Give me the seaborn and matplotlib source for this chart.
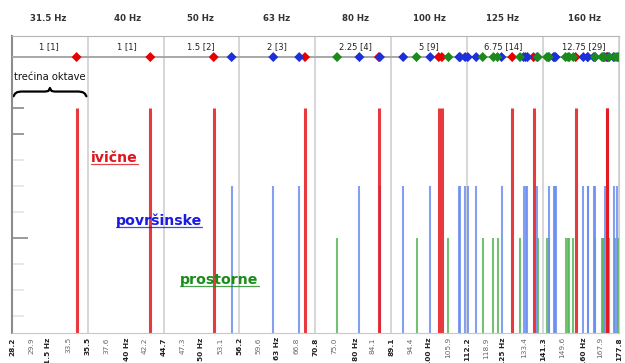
import numpy as np
import pandas as pd
import matplotlib
matplotlib.use("Agg")
import matplotlib.pyplot as plt
import seaborn as sns
from matplotlib.lines import Line2D

# tercni opsezi (Hz)
band_edges = [28.2, 35.5, 44.7, 56.2, 70.8, 89.1, 112.2, 141.3, 177.8]
band_centres = [31.5, 40, 50, 63, 80, 100, 125, 160]
band_names = ["31.5 Hz", "40 Hz", "50 Hz", "63 Hz", "80 Hz", "100 Hz", "125 Hz", "160 Hz"]
band_counts = ["1 [1]", "1 [1]", "1.5 [2]", "2 [3]", "2.25 [4]", "5 [9]", "6.75 [14]", "12.75 [29]"]

tick_pos = [28.2, 29.9, 31.5, 33.5, 35.5, 37.6, 40, 42.2, 44.7, 47.3, 50, 53.1,
            56.2, 59.6, 63, 66.8, 70.8, 75.0, 80, 84.1, 89.1, 94.4, 100, 105.9,
            112.2, 118.9, 125, 133.4, 141.3, 149.6, 160, 167.9, 177.8]
tick_labels = ["28.2", "29.9", "31.5 Hz", "33.5", "35.5", "37.6", "40 Hz", "42.2",
               "44.7", "47.3", "50 Hz", "53.1", "56.2", "59.6", "63 Hz", "66.8",
               "70.8", "75.0", "80 Hz", "84.1", "89.1", "94.4", "100 Hz", "105.9",
               "112.2", "118.9", "125 Hz", "133.4", "141.3", "149.6", "160 Hz",
               "167.9", "177.8"]

# rezonantne frekvencije (Hz)
axial = [34.3, 42.9, 52.0, 68.6, 85.8, 102.9, 103.9, 128.6, 137.2, 155.9, 171.5, 171.5]
tangential = [54.9, 62.3, 67.4, 80.9, 86.1, 92.4, 100.3, 109.5, 109.8, 111.5, 112.4,
              115.3, 124.5, 133.1, 133.9, 134.7, 138.7, 143.7, 145.8, 146.3, 146.7,
              159.6, 161.7, 161.8, 164.7, 165.4, 170.3, 172.1, 174.9, 176.8]
oblique = [75.6, 96.2, 106.0, 117.6, 121.5, 123.0, 131.7, 139.0, 142.9, 143.7, 151.2,
           152.4, 152.9, 154.8, 165.3, 168.9, 169.5, 169.9, 172.7, 175.6, 177.4]

mode_levels = {"ivične": 9, "površinske": 6, "prostorne": 4}

modes = pd.DataFrame({
    "freq": axial + tangential + oblique,
    "tip": ["ivične"] * len(axial) + ["površinske"] * len(tangential) + ["prostorne"] * len(oblique),
})
modes["visina"] = modes["tip"].map(mode_levels)

line_colors = {"ivične": "#e5161d", "površinske": "#6c8ef0", "prostorne": "#5cb65c"}
line_widths = {"ivične": 2.2, "površinske": 1.5, "prostorne": 1.5}
dot_colors = {"ivične": "#e60000", "površinske": "#1c2fd9", "prostorne": "#1b8a1b"}
text_colors = {"ivične": "#e0141c", "površinske": "#1a1ae0", "prostorne": "#1a8c1a"}
text_pos = {"ivične": (0.130, 0.576), "površinske": (0.171, 0.364), "prostorne": (0.277, 0.165)}

sns.set_style("white")
plt.rcParams["font.family"] = ["DejaVu Sans"]

fig = plt.figure(figsize=(6.25, 3.63), dpi=100)
ax = fig.add_axes([12 / 625, 30 / 363, 607 / 625, 297 / 363])
ax.set_xscale("log")
ax.set_xlim(band_edges[0], band_edges[-1])
ax.set_ylim(0.35, 11.77)

for edge in band_edges:
    ax.axvline(edge, color="#cccccc", lw=1.1, zorder=1)

for tip in ["prostorne", "površinske", "ivične"]:
    sub = modes[modes["tip"] == tip]
    ax.vlines(sub["freq"], 0, sub["visina"], color=line_colors[tip],
              lw=line_widths[tip], alpha=0.85, zorder=2)

# traka sa oznakama modova
header_y = 10.96
ax.axhline(header_y, color="#a8a8a8", lw=1.4, zorder=3)
sns.scatterplot(data=modes.assign(traka=header_y), x="freq", y="traka", hue="tip",
                palette=dot_colors, marker="D", s=26, linewidth=0, legend=False,
                ax=ax, zorder=4)
ax.set_xlabel("")
ax.set_ylabel("")

for c, lab in zip(band_centres, band_counts):
    ax.text(c, 11.38, lab, ha="center", va="center", fontsize=6, color="#222222")
for c, name in zip(band_centres, band_names):
    ax.text(c, 1.06, name, transform=ax.get_xaxis_transform(), ha="center",
            va="center", fontsize=6.2, fontweight="bold", color="#333333")

# x ose
ax.minorticks_off()
ax.set_xticks(tick_pos)
ax.set_xticklabels(tick_labels, rotation=90)
ax.tick_params(axis="x", length=0, pad=3, labelsize=5.3)
for lbl, val in zip(ax.get_xticklabels(), tick_pos):
    if val in band_edges or val in band_centres:
        lbl.set_fontweight("bold")
        lbl.set_color("#222222")
    else:
        lbl.set_color("#666666")

# y ose
ax.set_yticks([4, 8, 9])
ax.set_yticklabels([])
ax.set_yticks([1, 2, 3, 5, 6, 7], minor=True)
ax.tick_params(axis="y", which="major", left=True, direction="in", length=8.6,
               width=1.4, color="#9a9a9a", labelleft=False)
ax.tick_params(axis="y", which="minor", left=True, direction="in", length=8.6,
               width=1.2, color="#e4e4e4")
ax.yaxis.get_major_ticks()[0].tick1line.set_markersize(11.5)

ax.spines["left"].set_color("#8c8c8c")
ax.spines["left"].set_linewidth(1.5)
ax.spines["bottom"].set_color("#c8c8c8")
ax.spines["top"].set_color("#b4b4b4")
ax.spines["right"].set_color("#cccccc")

# tercina oktave + viticasta zagrada
lo, hi = band_edges[0], band_edges[1]
ax.text(np.sqrt(lo * hi), 0.862, "trećina oktave", transform=ax.get_xaxis_transform(),
        ha="center", va="center", fontsize=7.2, color="#111111")
t = np.array([0.02, 0.04, 0.07, 0.12, 0.44, 0.48, 0.5, 0.52, 0.56, 0.88, 0.93, 0.96, 0.98])
by = np.array([0.797, 0.806, 0.811, 0.813, 0.813, 0.815, 0.825, 0.815, 0.813, 0.813, 0.811, 0.806, 0.797])
ax.plot(lo * (hi / lo) ** t, by, color="black", lw=1.6, transform=ax.get_xaxis_transform(),
        solid_joinstyle="round", solid_capstyle="round", clip_on=False)

labels = {}
for tip, (tx, ty) in text_pos.items():
    labels[tip] = ax.text(tx, ty, tip, transform=ax.transAxes, ha="left", va="baseline",
                          fontsize=10.2, fontweight="bold", color=text_colors[tip], zorder=5)

# podvlacenje
fig.canvas.draw()
inv = fig.transFigure.inverted()
for tip, txt in labels.items():
    bb = txt.get_window_extent()
    base = ax.transAxes.transform(text_pos[tip])[1] - 2.5
    p0 = inv.transform((bb.x0, base))
    p1 = inv.transform((bb.x1, base))
    fig.add_artist(Line2D([p0[0], p1[0]], [p0[1], p1[1]], color=text_colors[tip],
                          lw=0.9, alpha=0.8))

fig.savefig("out.png", dpi=100)
